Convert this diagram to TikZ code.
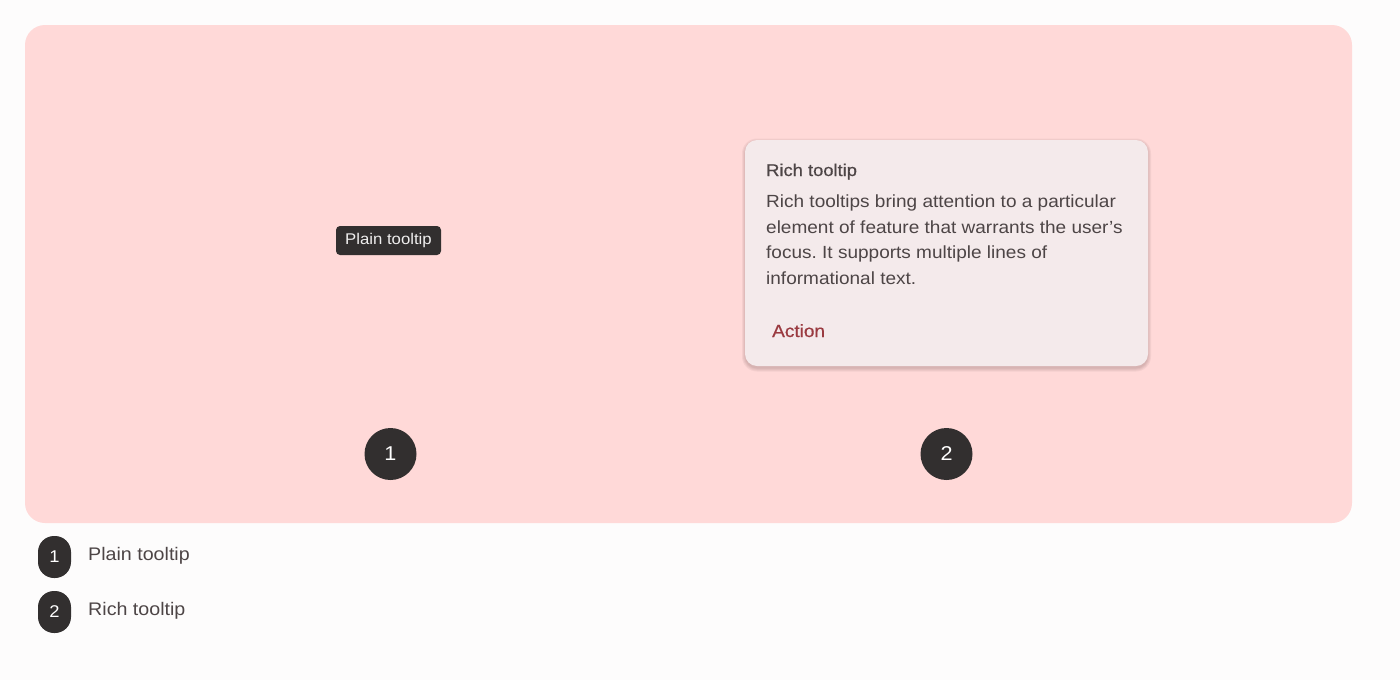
\documentclass[tikz,border=0pt]{standalone}
\usepackage{fontspec}
\setmainfont[FakeStretch=1.08]{Liberation Sans}
\frenchspacing
\definecolor{bgc}{HTML}{FDFCFC}
\definecolor{panelc}{HTML}{FFD9D8}
\definecolor{darkc}{HTML}{322F2F}
\definecolor{cardc}{HTML}{F4EAEB}
\definecolor{txtc}{HTML}{4D4546}
\definecolor{actc}{HTML}{9A3A40}
\definecolor{shadc}{HTML}{6A4A4A}
\tikzset{
  box/.style={rectangle, inner sep=0pt, minimum width=#1},
  txt/.style={inner sep=0pt, anchor=base west, text=txtc},
  badge/.style={circle, fill=darkc, minimum size=52pt, inner sep=0pt, text=white, font=\fontsize{20}{24}\selectfont},
  pill/.style={rectangle, rounded corners=16pt, fill=darkc, minimum width=33pt, minimum height=42pt, inner sep=0pt, text=white, font=\fontsize{17}{20}\selectfont},
  shadowlayer/.style={fill=shadc, fill opacity=0.07, rounded corners=12pt+#1},
}
\begin{document}
\begin{tikzpicture}[x=1pt,y=-1pt]
\fill[bgc] (0,0) rectangle (1400,680);
\useasboundingbox (0,0) rectangle (1400,680);
\node[box=1327pt, minimum height=498pt, rounded corners=20pt, fill=panelc] (panel) at (688.5,274) {};
\node[box=105pt, minimum height=29pt, rounded corners=4pt, fill=darkc, text=white!92!darkc, font=\fontsize{15.5}{18}\selectfont] (plain) at (388.5,240.5) {Plain tooltip};
\foreach \i in {0,1,2,3}{
  \fill[shadowlayer=\i pt] (745-\i,141.5-\i) rectangle (1148+\i,368.5+\i);
}
\node[box=403pt, minimum height=226pt, rounded corners=12pt, fill=cardc] (rich) at (946.5,253) {};
\node[txt, font=\fontsize{17}{20}\selectfont\addfontfeature{FakeBold=0.6}] (title) at (766,176) {Rich tooltip};
\node[txt, font=\fontsize{17.6}{20}\selectfont] (l1) at (766,207) {Rich tooltips bring attention to a particular};
\node[txt, font=\fontsize{17.6}{20}\selectfont] (l2) at (766,233) {element of feature that warrants the user’s};
\node[txt, font=\fontsize{17.6}{20}\selectfont] (l3) at (766,258) {focus. It supports multiple lines of};
\node[txt, font=\fontsize{17.6}{20}\selectfont] (l4) at (766,284) {informational text.};
\node[txt, text=actc, font=\fontsize{17.6}{20}\selectfont\addfontfeature{FakeBold=0.5}] (act) at (772,337) {Action};
\node[badge] (b1) at (390.5,454) {1};
\node[badge] (b2) at (946.5,454) {2};
\node[pill] (p1) at (54.5,557) {1};
\node[pill] (p2) at (54.5,612) {2};
\node[txt, font=\fontsize{18.2}{22}\selectfont] (t1) at (88,560) {Plain tooltip};
\node[txt, font=\fontsize{18.2}{22}\selectfont] (t2) at (88,615) {Rich tooltip};
\end{tikzpicture}
\end{document}
